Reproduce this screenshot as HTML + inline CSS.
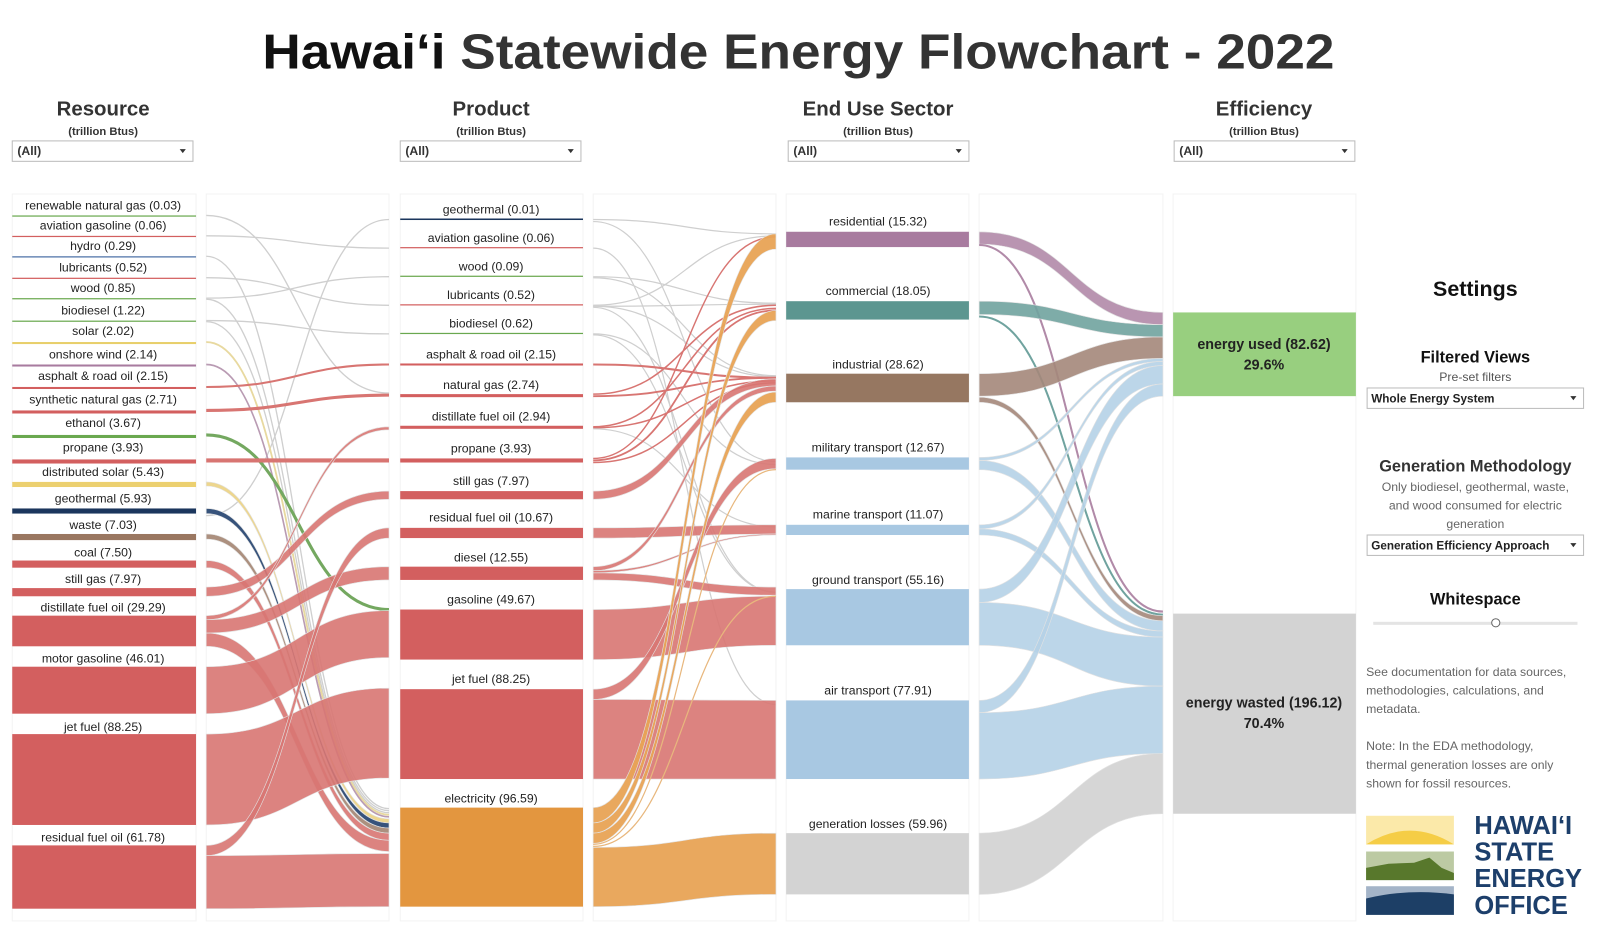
<!DOCTYPE html>
<html><head><meta charset="utf-8"><style>
html,body{margin:0;padding:0;background:#fff;}
svg{display:block;}
text{font-family:"Liberation Sans",sans-serif;}
</style></head><body>
<svg id="s" width="1600" height="934" viewBox="0 0 1600 934" xmlns="http://www.w3.org/2000/svg">
<g id="g" transform="scale(1.021)"></g>
</svg>
<script>
const g=document.getElementById('g');const NS='http://www.w3.org/2000/svg';
function el(t,a,txt){const e=document.createElementNS(NS,t);for(const k in a)e.setAttribute(k,a[k]);if(txt!==undefined)e.textContent=txt;g.appendChild(e);return e;}
function rect(x,y,w,h,f){el('rect',{x,y,width:w,height:h,fill:f});}
function txt(x,y,s,o){o=o||{};el('text',Object.assign({x,y,'font-size':12,fill:'#222','text-anchor':'middle'},o),s);}
function band(x0,a0,b0,x1,a1,b1,c,op){const m=(x0+x1)/2;
 el('path',{d:`M${x0} ${a0}C${m} ${a0} ${m} ${a1} ${x1} ${a1}L${x1} ${b1}C${m} ${b1} ${m} ${b0} ${x0} ${b0}Z`,fill:c,'fill-opacity':op||0.9,stroke:'#e2e2e2','stroke-width':0.6});}
function line(x0,y0,x1,y1,c,w){const m=(x0+x1)/2;el('path',{d:`M${x0} ${y0}C${m} ${y0} ${m} ${y1} ${x1} ${y1}`,fill:'none',stroke:c,'stroke-width':w||1.5});}
const R='#d35f5f',RL='#d87572',O='#e3963f',OL='#e8a355',B='#a8c8e2',BL='#b5d1e7',GR='#cfcfcf';
[[12,192],[202,381],[392,571],[581,760],[770,949],[959,1139],[1149,1328]].forEach(c=>{el('rect',{x:c[0],y:190,width:c[1]-c[0],height:712,fill:'none',stroke:'#f3f3f3','stroke-width':1});});
el('text',{x:257,y:67,'font-size':48,'font-weight':'bold',fill:'#333',textLength:1050,lengthAdjust:'spacingAndGlyphs'}).innerHTML='<tspan fill="#111">Hawai‘i</tspan> Statewide Energy Flowchart - 2022';
[['Resource',101,12],['Product',481,392],['End Use Sector',860,772],['Efficiency',1238,1150]].forEach(h=>{
 txt(h[1],113,h[0],{'font-size':20,'font-weight':'bold',fill:'#333'});
 txt(h[1],132,'(trillion Btus)',{'font-size':11,'font-weight':'bold',fill:'#333'});
 el('rect',{x:h[2],y:138,width:177,height:20,fill:'#fff',stroke:'#bbb'});
 txt(h[2]+5,152,'(All)',{'text-anchor':'start','font-size':12,'font-weight':'bold',fill:'#333'});
 el('path',{d:`M${h[2]+164} 146l6 0l-3 4z`,fill:'#333'});
});
const X0=202,X1=381;
line(X0,211,X1,385,GR,1.3);line(X0,231,X1,243,GR,1.3);line(X0,251,X1,792,GR,1.3);
line(X0,272,X1,299,GR,1.3);line(X0,292,X1,271,GR,1.3);line(X0,293,X1,794,GR,1.3);
line(X0,314,X1,327,GR,1.3);line(X0,315,X1,796,GR,1.3);line(X0,505,X1,215,GR,1.3);
line(X0,335,X1,798,'#e8d9a0',1.8);line(X0,357,X1,800,'#b99bb3',1.6);
line(X0,379,X1,357,RL,2);line(X0,402,X1,387,RL,3);
line(X0,426,X1,597,'#74a860',3);line(X0,451,X1,451,RL,4);
band(X0,472,476,X1,802,806,'#ecd488',0.95);
band(X0,498,503,X1,806,811,'#2c4a74',0.95);
band(X0,523,528,X1,811,816,'#a88a78',0.95);
band(X0,549,556,X1,816,823,RL);
band(X0,575,584,X1,481,489,RL);
band(X0,603,607,X1,418,421,RL);
band(X0,607,620,X1,555,568,RL);
band(X0,620,633,X1,823,834,RL);
band(X0,653,699,X1,598,644,RL);
band(X0,719,808,X1,674,762,RL);
band(X0,828,838,X1,517,527,RL);
band(X0,838,890,X1,836,888,RL);
const P0=581,P1=760;
line(P0,215,P1,229,GR,1.2);line(P0,217,P1,452,GR,1.2);line(P0,243,P1,690,GR,1.2);line(P0,271,P1,297,GR,1.2);line(P0,272,P1,368,GR,1.2);
line(P0,299,P1,231,GR,1.2);line(P0,300,P1,298,GR,1.2);line(P0,300,P1,369,GR,1.2);line(P0,301,P1,580,GR,1.2);line(P0,327,P1,455,GR,1.2);line(P0,328,P1,580,GR,1.2);
line(P0,357,P1,370,RL,2);line(P0,386,P1,299,RL,1.5);line(P0,388,P1,370,RL,1.8);
line(P0,418,P1,302,RL,1.5);line(P0,419,P1,373,RL,1.5);line(P0,420,P1,516,GR,1.2);
line(P0,449,P1,232,RL,1.4);line(P0,451,P1,304,RL,1.8);line(P0,453,P1,375,RL,1.5);
band(P0,481,489,P1,371,378,RL);
band(P0,517,527,P1,514,523,RL);
band(P0,555,559,P1,378,383,RL);band(P0,559,561,P1,523,524,RL);band(P0,561,568,P1,575,583,RL);
band(P0,597,646,P1,584,632,RL);
band(P0,675,685,P1,449,459,RL);
band(P0,685,763,P1,686,763,RL);
band(P0,791,806,P1,229,244,OL,0.95);
band(P0,806,816,P1,304,314,OL,0.95);
band(P0,816,826,P1,384,394,OL,0.95);
line(P0,827,P1,460,'#e8b77d',1.2);line(P0,829,P1,584,'#e8b77d',1.2);
band(P0,830,888,P1,816,876,OL,0.95);
const E0=959,E1=1139;
band(E0,227,239,E1,306,318,'#b18aa8');line(E0,240,E1,599,'#b18aa8',2);
band(E0,295,308,E1,318,330,'#70a39f');line(E0,310,E1,602,'#70a39f',2);
band(E0,366,388,E1,330,351,'#a4877a');band(E0,389,394,E1,603,608,'#a4877a');
band(E0,448,451,E1,351,354,BL);band(E0,451,460,E1,608,618,BL);
band(E0,514,518,E1,354,358,BL);band(E0,518,524,E1,618,624,BL);
band(E0,577,590,E1,358,376,BL);band(E0,590,632,E1,624,672,BL);
band(E0,686,698,E1,376,388,BL);band(E0,698,763,E1,672,738,BL);
band(E0,816,876,E1,738,797,'#d6d6d6',1);
const res=[['renewable natural gas  (0.03)',201,211,1,'#6aa84f'],['aviation gasoline  (0.06)',221,231,1,R],['hydro  (0.29)',241,251,1,'#4a6fa5'],['lubricants  (0.52)',262,272,1,R],['wood  (0.85)',282,292,1,'#6aa84f'],['biodiesel  (1.22)',304,314,1,'#6aa84f'],['solar  (2.02)',324,335,2,'#e8cf6a'],['onshore wind  (2.14)',347,357,2,'#a87b9f'],['asphalt & road oil  (2.15)',368,379,2,R],['synthetic natural gas  (2.71)',391,402,3,R],['ethanol  (3.67)',414,426,3,'#6aa84f'],['propane  (3.93)',438,450,4,R],['distributed solar  (5.43)',462,472,5,'#ecd070'],['geothermal  (5.93)',488,498,5,'#1b365d'],['waste  (7.03)',514,523,6,'#9a7761'],['coal  (7.50)',541,549,7,R],['still gas  (7.97)',567,576,8,R],['distillate fuel oil  (29.29)',595,603,30,R],['motor gasoline  (46.01)',645,653,46,R],['jet fuel  (88.25)',712,719,89,R],['residual fuel oil  (61.78)',820,828,62,R]];
res.forEach(n=>{txt(101,n[1]+4,n[0]);rect(12,n[2],180,Math.max(n[3],1.2),n[4]);});
const prod=[['geothermal (0.01)',205,214,1.5,'#1b365d'],['aviation gasoline (0.06)',233,242,1.2,R],['wood (0.09)',261,270,1.2,'#6aa84f'],['lubricants (0.52)',289,298,1.2,R],['biodiesel (0.62)',317,326,1.2,'#6aa84f'],['asphalt & road oil (2.15)',347,356,2,R],['natural gas (2.74)',377,386,3,R],['distillate fuel oil (2.94)',408,417,3,R],['propane (3.93)',439,449,4,R],['still gas (7.97)',471,481,8,R],['residual fuel oil (10.67)',507,517,10,R],['diesel (12.55)',546,555,13,R],['gasoline (49.67)',587,597,49,R],['jet fuel (88.25)',665,675,88,R],['electricity (96.59)',782,791,97,O]];
prod.forEach(n=>{txt(481,n[1]+4,n[0]);rect(392,n[2],179,n[3],n[4]);});
const eu=[['residential  (15.32)',217,227,15,'#a87b9f'],['commercial  (18.05)',285,295,18,'#5c9690'],['industrial  (28.62)',357,366,28,'#967761'],['military transport  (12.67)',438,448,12,B],['marine transport  (11.07)',504,514,10,B],['ground transport  (55.16)',568,577,55,B],['air transport  (77.91)',676,686,77,B],['generation losses  (59.96)',807,816,60,'#d3d3d3']];
eu.forEach(n=>{txt(860,n[1]+4,n[0]);rect(770,n[2],179,n[3],n[4]);});
rect(1149,306,179,82,'#98cf7f');rect(1149,601,179,196,'#d3d3d3');
txt(1238,342,'energy used (82.62)',{'font-size':14,'font-weight':'bold'});txt(1238,362,'29.6%',{'font-size':14,'font-weight':'bold'});
txt(1238,693,'energy wasted (196.12)',{'font-size':14,'font-weight':'bold'});txt(1238,713,'70.4%',{'font-size':14,'font-weight':'bold'});
txt(1445,290,'Settings',{'font-size':21,'font-weight':'bold',fill:'#111'});
txt(1445,355,'Filtered Views',{'font-size':16,'font-weight':'bold',fill:'#111'});
txt(1445,373,'Pre-set filters',{'font-size':12,fill:'#555'});
function dd(y,s){el('rect',{x:1339,y,width:212,height:20,fill:'#fff',stroke:'#bbb'});txt(1343,y+14,s,{'text-anchor':'start','font-size':11.5,'font-weight':'bold',fill:'#222'});el('path',{d:`M1538 ${y+8}l6 0l-3 4z`,fill:'#333'});}
dd(380,'Whole Energy System');
txt(1445,462,'Generation Methodology',{'font-size':16,'font-weight':'bold',fill:'#333'});
txt(1445,481,'Only biodiesel, geothermal, waste,',{'font-size':12,fill:'#666'});
txt(1445,499,'and wood consumed for electric',{'font-size':12,fill:'#666'});
txt(1445,517,'generation',{'font-size':12,fill:'#666'});
dd(524,'Generation Efficiency Approach');
txt(1445,592,'Whitespace',{'font-size':16,'font-weight':'bold',fill:'#111'});
rect(1345,609,200,3,'#e4e4e4');el('circle',{cx:1465,cy:610,r:4,fill:'#fff',stroke:'#666'});
['See documentation for data sources,','methodologies, calculations, and','metadata.','','Note: In the EDA methodology,','thermal generation losses are only','shown for fossil resources.'].forEach((s,i)=>{if(s)txt(1338,662+i*18.2,s,{'text-anchor':'start','font-size':12,fill:'#666'});});
rect(1338,799,86,28,'#fbe9a9');el('path',{d:'M1338 827Q1381 800 1424 827Z',fill:'#f5cd46'});
rect(1338,834,86,28,'#bccaa3');el('path',{d:'M1338 850L1360 846L1385 845L1400 840L1412 850L1424 855L1424 862L1338 862Z',fill:'#58782c'});
rect(1338,868,86,28,'#a4b4c8');el('path',{d:'M1338 880Q1380 870 1424 876L1424 896L1338 896Z',fill:'#1d3f66'});
['HAWAI‘I','STATE','ENERGY','OFFICE'].forEach((s,i)=>txt(1444,817+i*26,s,{'text-anchor':'start','font-size':25,'font-weight':'bold',fill:'#1d3f6b'}));
</script>
</body></html>
